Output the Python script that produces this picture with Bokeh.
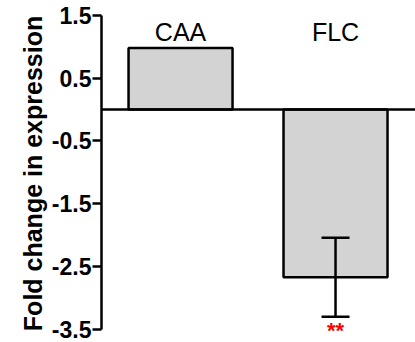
from bokeh.plotting import figure
from bokeh.models import Range1d, Span, Whisker, ColumnDataSource, FixedTicker, TeeHead
from bokeh.core.properties import value
from bokeh.embed import file_html
from bokeh.resources import INLINE

genes = ["CAA", "FLC"]
fold_change = [0.98, -2.67]
error = [0.0, 0.63]
significance = ["", "**"]
y_ticks = [1.5, 0.5, -0.5, -1.5, -2.5, -3.5]
y_tick_labels = ["1.5", "0.5", "-0.5", "-1.5", "-2.5", "-3.5"]

xs = [i + 1 for i in range(len(genes))]
src = ColumnDataSource(dict(x=xs, top=fold_change, label=genes,
                            label_y=[1.24] * len(genes)))
err_idx = [i for i, e in enumerate(error) if e > 0]
err_src = ColumnDataSource(dict(
    x=[xs[i] for i in err_idx],
    upper=[fold_change[i] + error[i] for i in err_idx],
    lower=[fold_change[i] - error[i] for i in err_idx],
    sig=[significance[i] for i in err_idx],
    sig_y=[fold_change[i] - error[i] - 0.22 for i in err_idx],
))

p = figure(width=415, height=342, output_backend="svg", toolbar_location=None,
           x_range=Range1d(0.490, 2.516), y_range=Range1d(-3.646, 1.608),
           x_axis_location=None, min_border_left=101, min_border_right=0,
           min_border_top=8, min_border_bottom=4)
p.outline_line_color = None
p.xgrid.visible = False
p.ygrid.visible = False
p.background_fill_color = "white"

p.vbar(x="x", width=0.671, bottom=0, top="top", source=src,
       fill_color="#d3d3d3", line_color="black", line_width=2.5)
p.add_layout(Span(location=0, dimension="width", line_color="black", line_width=2.5))

eb = Whisker(base="x", upper="upper", lower="lower", source=err_src, level="overlay",
             line_color="black", line_width=2.5,
             upper_head=TeeHead(size=28, line_color="black", line_width=2.5),
             lower_head=TeeHead(size=28, line_color="black", line_width=2.5))
p.add_layout(eb)

p.text(x="x", y="label_y", text="label", source=src, text_align="center",
       text_baseline="middle", text_font=value("Liberation Sans"),
       text_font_size="25px", text_color="black")
p.text(x="x", y="sig_y", text="sig", source=err_src, text_align="center",
       text_baseline="middle", text_font=value("Liberation Sans"),
       text_font_size="22px", text_color="red", text_font_style="bold")

ax = p.yaxis[0]
ax.bounds = (-3.5, 1.5)
ax.ticker = FixedTicker(ticks=y_ticks)
ax.major_label_overrides = {t: l for t, l in zip(y_ticks, y_tick_labels)}
ax.minor_tick_line_color = None
ax.axis_line_color = "black"
ax.major_tick_line_color = "black"
ax.axis_line_width = 2.5
ax.major_tick_line_width = 2.5
ax.major_tick_out = 9
ax.major_tick_in = 0
ax.major_label_standoff = 1
ax.major_label_text_color = "black"
ax.major_label_text_font = "Liberation Sans"
ax.major_label_text_font_style = "bold"
ax.major_label_text_font_size = "23px"
ax.axis_label = "Fold change in expression"
ax.axis_label_text_color = "black"
ax.axis_label_text_font = "Liberation Sans"
ax.axis_label_text_font_style = "bold"
ax.axis_label_text_font_size = "25px"
ax.axis_label_standoff = 2

open("out.html", "w").write(file_html(p, INLINE))
